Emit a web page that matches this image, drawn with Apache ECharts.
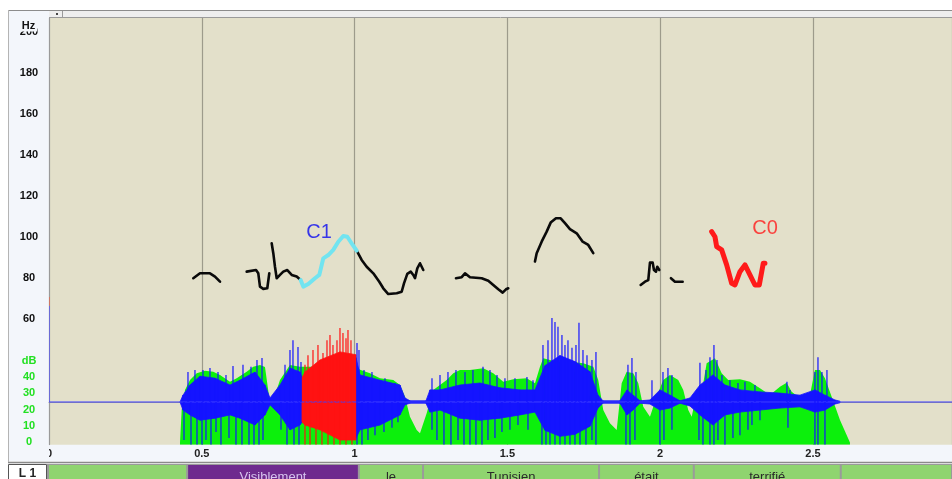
<!DOCTYPE html>
<html><head><meta charset="utf-8">
<script src="https://cdn.jsdelivr.net/npm/echarts@6/dist/echarts.min.js"></script>
<style>html,body{margin:0;padding:0;background:#fff;overflow:hidden;}#c{width:952px;height:479px;}</style>
</head><body><div id="c"></div>
<script>
// ---------- DATA ----------
const T_MAX = 2.955;            // seconds shown
const HZ_MAX = 206.8;
const DB_MAX = 259.7;
const hzTicks = [60, 80, 100, 120, 140, 160, 180, 200];
const dbTicks = [0, 10, 20, 30, 40];

// intensity curve [time s, dB]
const intensity = [[0.4287,0],[0.4342,19.8],[0.4450,32.1],[0.4614,38.2],[0.4833,42.3],[0.5105,43.9],[0.5376,43.3],[0.5596,41.2],[0.5923,37.1],[0.6142,39.2],[0.6469,43.3],[0.6685,46.3],[0.6904,47.4],[0.7068,46.1],[0.7232,24.1],[0.7428,30.8],[0.7559,38.2],[0.7886,47.4],[0.8213,46.3],[0.8639,46.3],[0.9087,49.4],[0.9522,50.4],[0.9957,49.4],[1.0177,44.5],[1.0504,42.3],[1.0831,39.2],[1.1266,38.2],[1.1486,35.1],[1.1649,28.0],[1.1813,15.7],[1.2032,7.6],[1.2140,5.6],[1.2359,17.8],[1.2575,32.1],[1.3014,38.2],[1.3230,42.3],[1.3449,44.3],[1.3776,44.3],[1.4211,45.3],[1.4539,42.3],[1.4866,37.1],[1.5193,38.6],[1.5632,39.2],[1.5903,36.2],[1.6067,46.3],[1.6175,51.5],[1.6613,49.4],[1.7048,49.4],[1.7484,48.4],[1.7811,46.3],[1.7974,38.2],[1.8138,19.8],[1.8357,11.7],[1.8577,7.6],[1.8740,36.2],[1.8904,43.3],[1.9120,42.3],[1.9284,36.2],[1.9447,21.8],[1.9666,15.7],[1.9885,28.0],[2.0101,38.2],[2.0321,41.2],[2.0592,38.2],[2.0756,32.1],[2.0919,19.8],[2.1031,15.7],[2.1194,30.0],[2.1410,36.2],[2.1521,48.4],[2.1793,51.5],[2.2012,42.3],[2.2228,38.2],[2.2611,38.6],[2.2938,37.1],[2.3266,33.1],[2.3593,29.0],[2.3920,34.1],[2.4139,36.5],[2.4303,31.0],[2.4574,27.0],[2.4902,29.0],[2.5065,44.3],[2.5229,44.3],[2.5393,39.2],[2.5612,28.0],[2.5884,13.7],[2.6211,0]];

// waveform dense core envelope [time, upper, lower] (normalised amplitude)
const blueCore1 = [[0.4287,0,0],[0.4385,0.17,-0.20],[0.4614,0.42,-0.32],[0.4941,0.64,-0.45],[0.5432,0.59,-0.40],[0.5923,0.42,-0.32],[0.6250,0.54,-0.40],[0.6741,0.74,-0.57],[0.7068,0.42,-0.32],[0.7232,0.10,-0.07],[0.7559,0.42,-0.32],[0.7886,0.84,-0.69],[0.8213,0.74,-0.57],[0.8279,0.60,-0.50]];
const redCore = [[0.8279,0.60,-0.50],[0.8377,0.74,-0.57],[0.8868,1.04,-0.69],[0.9522,1.24,-0.94],[1.0046,1.17,-0.94]];
const blueCore2 = [[1.0046,1.10,-0.90],[1.0177,0.67,-0.69],[1.0831,0.54,-0.57],[1.1486,0.42,-0.32],[1.1649,0.10,-0.07],[1.1813,0.03,-0.03],[1.2336,0.03,-0.03],[1.2467,0.30,-0.25],[1.2795,0.30,-0.20],[1.3449,0.42,-0.40],[1.4103,0.47,-0.45],[1.4758,0.35,-0.40],[1.5412,0.30,-0.32],[1.5903,0.30,-0.25],[1.6230,0.90,-0.70],[1.6721,1.15,-0.85],[1.7212,1.00,-0.80],[1.7703,0.75,-0.60],[1.7965,0.17,-0.15],[1.8128,0.03,-0.03],[1.8684,0.03,-0.03],[1.8914,0.30,-0.32],[1.9110,0.17,-0.20],[1.9339,0.03,-0.03],[1.9666,0.05,-0.05],[1.9993,0.30,-0.20],[2.0321,0.17,-0.15],[2.0648,0.03,-0.03],[2.0975,0.10,-0.10],[2.1302,0.42,-0.32],[2.1728,0.67,-0.57],[2.2120,0.42,-0.32],[2.2611,0.30,-0.25],[2.3266,0.25,-0.20],[2.3920,0.22,-0.15],[2.4574,0.17,-0.12],[2.5065,0.30,-0.25],[2.5393,0.17,-0.20],[2.5720,0.05,-0.05],[2.5884,0.02,-0.02]];

// waveform peaks [time, amplitude]
const blueUpPeaks = [[0.4548,0.74],[0.4777,0.79],[0.5039,0.79],[0.5268,0.84],[0.5530,0.74],[0.5792,0.67],[0.6021,0.89],[0.6348,0.92],[0.6610,0.87],[0.6806,1.04],[0.6970,1.09],[0.7723,0.92],[0.7886,1.29],[0.7984,1.53],[0.8148,1.36],[0.8246,0.99],[1.0079,1.46],[1.0144,1.29],[1.0308,0.79],[1.0569,0.74],[1.0995,0.59],[1.1322,0.47],[1.2533,0.59],[1.2795,0.67],[1.3056,0.74],[1.3318,0.79],[1.3613,0.74],[1.3874,0.79],[1.4202,0.87],[1.4431,0.79],[1.4660,0.67],[1.4921,0.59],[1.5249,0.59],[1.5641,0.62],[1.5838,0.54],[1.6165,1.41],[1.6329,1.53],[1.6459,2.08],[1.6558,1.98],[1.6656,1.86],[1.6786,1.66],[1.6885,1.41],[1.6983,1.53],[1.7114,1.34],[1.7245,1.41],[1.7343,1.96],[1.7474,1.29],[1.7605,1.16],[1.7768,1.04],[1.7899,1.24],[1.8946,0.92],[1.9077,1.09],[1.9208,0.74],[1.9732,0.54],[2.0092,0.74],[2.0255,0.84],[2.0386,0.67],[2.1302,0.97],[2.1499,0.79],[2.1630,1.11],[2.1760,1.41],[2.1859,1.04],[2.2022,0.67],[2.2284,0.54],[2.2546,0.47],[2.2775,0.50],[2.3102,0.42],[2.4149,0.50],[2.4247,0.30],[2.5065,0.74],[2.5164,1.11],[2.5295,0.74],[2.5458,0.79]];
const blueDownPeaks = [[0.4418,-0.94],[0.4647,-1.06],[0.4843,-1.06],[0.5007,-1.06],[0.5137,-0.94],[0.5301,-1.06],[0.5465,-0.74],[0.5628,-1.06],[0.5890,-0.89],[0.6119,-1.06],[0.6315,-1.06],[0.6545,-1.06],[0.6708,-1.06],[0.6872,-1.06],[0.7003,-0.94],[0.7592,-0.69],[0.7788,-1.06],[0.8017,-1.06],[0.8181,-1.06],[1.0079,-1.06],[1.0242,-1.06],[1.0438,-0.94],[1.0668,-0.82],[1.0962,-0.74],[1.1224,-0.64],[1.1420,-0.50],[1.2533,-0.69],[1.2696,-0.94],[1.2925,-1.06],[1.3154,-1.06],[1.3384,-0.94],[1.3580,-1.06],[1.3776,-1.06],[1.3972,-1.06],[1.4169,-1.06],[1.4365,-0.94],[1.4594,-0.89],[1.4823,-0.74],[1.5085,-0.69],[1.5347,-0.57],[1.5674,-0.69],[1.6132,-1.06],[1.6263,-1.06],[1.6394,-1.06],[1.6558,-1.06],[1.6721,-1.06],[1.6885,-1.06],[1.7048,-1.06],[1.7212,-1.06],[1.7376,-1.06],[1.7572,-1.06],[1.7768,-0.94],[1.7899,-1.06],[1.8881,-1.06],[1.9012,-1.06],[1.9175,-0.94],[1.9993,-1.06],[2.0124,-0.94],[2.0386,-0.69],[2.1270,-0.94],[2.1401,-1.06],[2.1630,-1.06],[2.1760,-1.06],[2.1891,-0.94],[2.2120,-1.06],[2.2382,-0.89],[2.2611,-0.82],[2.2873,-0.69],[2.3004,-0.57],[2.3266,-0.45],[2.4182,-0.64],[2.5065,-1.06],[2.5164,-1.06],[2.5393,-1.06]];
const redUpPeaks = [[0.8377,0.92],[0.8475,1.16],[0.8639,1.29],[0.8802,1.41],[0.8966,1.21],[0.9097,1.53],[0.9195,1.66],[0.9293,1.41],[0.9424,1.53],[0.9522,1.83],[0.9620,1.71],[0.9719,1.58],[0.9784,1.78],[0.9882,1.53]];
const redDownPeaks = [[0.8377,-1.06],[0.8541,-1.06],[0.8737,-1.06],[0.8933,-1.06],[0.9130,-1.06],[0.9326,-1.06],[0.9522,-1.06],[0.9719,-1.06],[0.9915,-1.06]];
// onset click at t=0 [time, from, to]
const onsetBlue = [[0, 0, 2.38]];
const onsetRed = [[0, 2.38, 2.6]];

// pitch contour segments [time s, Hz]
const pitch1 = [[0.4722,80.0],[0.4941,82.4],[0.5268,82.4],[0.5432,80.8],[0.5596,78.3]];
const pitch2 = [[0.6469,83.2],[0.6774,84.0],[0.6849,82.4],[0.6904,75.9],[0.7012,74.8],[0.7143,75.1],[0.7209,82.4]];
const pitch3 = [[0.7287,97.0],[0.7340,92.2],[0.7395,85.6],[0.7451,80.0],[0.7559,81.6],[0.7667,83.2],[0.7798,84.0],[0.7942,81.6],[0.8105,80.8],[0.8236,79.1]];
const pitchC1 = [[0.8236,79.1],[0.8321,75.9],[0.8485,77.2],[0.8704,80.0],[0.8845,81.6],[0.8976,89.7],[0.9140,91.3],[0.9303,93.8],[0.9467,97.8],[0.9630,100.6],[0.9761,100.2],[0.9938,96.2],[1.0069,93.4]];
const pitch4 = [[1.0069,93.4],[1.0232,88.9],[1.0396,85.6],[1.0612,82.4],[1.0808,78.3],[1.0939,75.1],[1.1103,72.3],[1.1378,72.7],[1.1541,73.4],[1.1617,77.5],[1.1725,82.1],[1.1836,83.2],[1.1921,81.6],[1.1977,80.0],[1.2052,84.8],[1.2140,87.3],[1.2248,84.0]];
const pitch5 = [[1.3318,80.0],[1.3505,80.5],[1.3613,82.4],[1.3776,80.5],[1.4159,80.0],[1.4375,78.8],[1.4539,76.7],[1.4703,74.6],[1.4846,73.0],[1.4954,74.6],[1.5029,75.1]];
const pitch6 = [[1.5903,88.1],[1.5959,92.2],[1.6122,97.8],[1.6286,102.7],[1.6417,107.1],[1.6590,109.2],[1.6744,109.2],[1.6885,106.8],[1.7048,103.9],[1.7268,101.9],[1.7464,97.8],[1.7647,96.2],[1.7811,92.2]];
const pitch7 = [[1.9362,76.7],[1.9503,78.3],[1.9611,79.1],[1.9666,87.6],[1.9755,87.6],[1.9797,84.0],[1.9863,83.2],[1.9905,85.6],[1.9971,84.0]];
const pitch8 = [[2.0353,80.0],[2.0484,78.3],[2.0736,78.3]];
const pitchC0 = [[2.1685,102.7],[2.1793,100.2],[2.1849,95.4],[2.2012,93.8],[2.2176,86.5],[2.2340,77.5],[2.2448,76.7],[2.2611,83.2],[2.2775,86.5],[2.2938,81.6],[2.3102,76.7],[2.3243,76.7],[2.3374,87.3],[2.3429,87.3]];
const blackPitch = [pitch1, pitch2, pitch3, pitch4, pitch5, pitch6, pitch7, pitch8];

// contour labels [time, Hz, text]
const contourLabels = [[0.8835, 102.3, 'C1'], [2.343, 104.3, 'C0']];

// annotation tier
const tierBounds = [0, 0.452, 1.014, 1.224, 1.800, 2.110, 2.591, T_MAX];
const tierWords = ['', 'Visiblement', 'le', 'Tunisien', 'était', 'terrifié', ''];
const tierName = 'L 1';

// ---------- CHART ----------
const FONT = 'Liberation Sans, Arial, sans-serif';
const chart = echarts.init(document.getElementById('c'), null, {renderer: 'canvas', width: 952, height: 479});

function band(arr, color) {
  return {
    type: 'custom', xAxisIndex: 0, yAxisIndex: 0, clip: true, silent: true, z: 3,
    data: arr.slice(0, -1).map((d, i) => [d[0], 0, i]),
    renderItem: (params, api) => {
      const i = params.dataIndex, a = arr[i], b = arr[i + 1];
      const pts = [api.coord([a[0], a[1]]), api.coord([b[0], b[1]]), api.coord([b[0], b[2]]), api.coord([a[0], a[2]])];
      return {type: 'polygon', shape: {points: pts}, style: {fill: color, stroke: color, lineWidth: 0.8}};
    }
  };
}
function peaks(arr, color, z) {
  return {
    type: 'custom', xAxisIndex: 0, yAxisIndex: 0, clip: true, silent: true, z: z || 4,
    data: arr.map(d => d.length === 3 ? d : [d[0], 0, d[1]]),
    renderItem: (params, api) => {
      const t = api.value(0);
      const p0 = api.coord([t, api.value(1)]), p1 = api.coord([t, api.value(2)]);
      return {type: 'line', shape: {x1: p0[0], y1: p0[1], x2: p1[0], y2: p1[1]}, style: {stroke: color, lineWidth: 1.2}};
    }
  };
}
function pitchLine(data, color, width) {
  return {type: 'line', xAxisIndex: 1, yAxisIndex: 2, data: data, symbol: 'none', silent: true, z: 6,
    lineStyle: {color: color, width: width, join: 'round', cap: 'round'}, itemStyle: {color: color}};
}

const BLUE = '#1414ff', RED = '#ff1212', GREEN = '#0cf00c';

const series = [
  {type: 'line', xAxisIndex: 0, yAxisIndex: 1, data: intensity, symbol: 'none', silent: true, z: 2,
   lineStyle: {width: 0}, itemStyle: {color: GREEN}, areaStyle: {color: GREEN, opacity: 1, origin: 'start'}},
  {type: 'line', xAxisIndex: 0, yAxisIndex: 0, data: [[0, 0], [T_MAX, 0]], symbol: 'none', silent: true, z: 3,
   lineStyle: {color: '#4040ff', width: 1}},
  band(blueCore1, BLUE), band(blueCore2, BLUE),
  peaks(blueUpPeaks, BLUE), peaks(blueDownPeaks, BLUE), peaks(onsetBlue, '#4a4aff'),
  band(redCore, RED), peaks(redUpPeaks, RED, 5), peaks(redDownPeaks, RED, 5), peaks(onsetRed, '#f06040', 5),
];
blackPitch.forEach(seg => series.push(pitchLine(seg, '#0a0a0a', 2.6)));
series.push(pitchLine(pitchC1, '#72e4f0', 4));
series.push(pitchLine(pitchC0, '#ff1a1a', 5));
series.push({
  type: 'scatter', xAxisIndex: 1, yAxisIndex: 2, symbolSize: 0, silent: true, z: 7,
  data: contourLabels.map(d => ({value: [d[0], d[1]], name: d[2],
    label: {show: true, position: 'inside', formatter: d[2], fontSize: 20, fontFamily: FONT,
      color: d[2] === 'C1' ? '#0a0af0' : '#ff1a1a'}}))
});
series.push({
  type: 'custom', xAxisIndex: 2, yAxisIndex: 4, silent: true, z: 3, clip: false,
  data: tierWords.map((w, i) => [tierBounds[i], 0, tierBounds[i + 1], i]),
  renderItem: (params, api) => {
    const i = params.dataIndex;
    const a = api.coord([tierBounds[i], 1]), b = api.coord([tierBounds[i + 1], 0]);
    const purple = tierWords[i] === 'Visiblement';
    const x0 = a[0] + (i === 0 ? 0 : 1), x1 = b[0] - 1;
    return {type: 'group', children: [
      {type: 'rect', shape: {x: x0, y: a[1] + 1, width: x1 - x0, height: b[1] - a[1]},
       style: {fill: purple ? '#6e2a8e' : '#8fd46f'}},
      {type: 'text', style: {text: tierWords[i], x: (x0 + x1) / 2, y: a[1] + 7, align: 'center', verticalAlign: 'top',
        fontSize: 13, fontFamily: FONT, fill: purple ? '#d6c4ee' : '#2a2a2a'}}
    ]};
  }
});

const option = {
  backgroundColor: '#f3f6fb',
  animation: false,
  grid: [
    {left: 49, top: 18, right: 0, height: 426.7, show: true, backgroundColor: '#e3e0ca', borderWidth: 0, outerBoundsMode: 'none', containLabel: false},
    {left: 49, top: 18, right: 0, height: 424.4, outerBoundsMode: 'none', containLabel: false},
    {left: 49, top: 464, right: 0, height: 15, outerBoundsMode: 'none', containLabel: false}
  ],
  xAxis: [
    {gridIndex: 0, type: 'value', min: 0, max: T_MAX, interval: 0.5,
     axisLine: {show: true, lineStyle: {color: '#9a9a9a'}}, axisTick: {show: false},
     axisLabel: {margin: 4, fontSize: 11, fontWeight: 'bold', fontFamily: FONT, color: '#222', showMaxLabel: false,
       formatter: v => (Math.abs(v * 2 - Math.round(v * 2)) < 1e-6) ? String(v) : ''},
     splitLine: {show: true, lineStyle: {color: '#9d9b8b', width: 1.2}}},
    {gridIndex: 1, type: 'value', min: 0, max: T_MAX, show: false},
    {gridIndex: 2, type: 'value', min: 0, max: T_MAX, show: false}
  ],
  yAxis: [
    {gridIndex: 0, type: 'value', min: -1.057, max: 9.505, axisLabel: {show: false}, axisTick: {show: false},
     splitLine: {show: false}, axisLine: {show: true, lineStyle: {color: '#9a9a9a'}}},
    {gridIndex: 0, type: 'value', min: -1.41, max: DB_MAX, show: false},
    {gridIndex: 1, type: 'value', min: 0, max: HZ_MAX, interval: 20, position: 'left',
     axisLine: {show: false}, axisTick: {show: false}, splitLine: {show: false},
     axisLabel: {margin: 20, align: 'center', fontSize: 11, fontWeight: 'bold', fontFamily: FONT, color: '#111',
       formatter: v => hzTicks.indexOf(v) >= 0 ? String(v) : ''}},
    {gridIndex: 1, type: 'value', min: 0, max: DB_MAX, interval: 10, position: 'left', offset: 0,
     axisLine: {show: false}, axisTick: {show: false}, splitLine: {show: false},
     axisLabel: {margin: 20, align: 'center', fontSize: 11, fontWeight: 'bold', fontFamily: FONT, color: '#22e022',
       formatter: v => dbTicks.indexOf(v) >= 0 ? String(v) : (v === 50 ? 'dB' : '')}},
    {gridIndex: 2, type: 'value', min: 0, max: 1, show: false}
  ],
  graphic: [
    {type: 'rect', z: 50, shape: {x: 0, y: 0, width: 952, height: 10}, style: {fill: '#ffffff'}},
    {type: 'rect', z: 50, shape: {x: 0, y: 0, width: 8, height: 479}, style: {fill: '#ffffff'}},
    {type: 'line', z: 51, shape: {x1: 8, y1: 10.5, x2: 952, y2: 10.5}, style: {stroke: '#8c8c8c', lineWidth: 1}},
    {type: 'line', z: 51, shape: {x1: 8.5, y1: 10, x2: 8.5, y2: 462}, style: {stroke: '#b4b4b4', lineWidth: 1}},
    {type: 'rect', z: 50, shape: {x: 49, y: 11, width: 903, height: 6}, style: {fill: '#eeeeee'}},
    {type: 'line', z: 51, shape: {x1: 49, y1: 17.5, x2: 952, y2: 17.5}, style: {stroke: '#9a9a9a', lineWidth: 1}},
    {type: 'line', z: 51, shape: {x1: 62.5, y1: 11, x2: 62.5, y2: 17}, style: {stroke: '#9a9a9a', lineWidth: 1}},
    {type: 'rect', z: 51, shape: {x: 56, y: 13, width: 2, height: 2}, style: {fill: '#444'}},
    {type: 'rect', z: 50, shape: {x: 9, y: 446, width: 40, height: 14}, style: {fill: '#f3f6fb'}},
    {type: 'text', z: 52, style: {text: 'Hz', x: 28.5, y: 20.5, align: 'center', verticalAlign: 'top',
      fontSize: 11, fontWeight: 'bold', fontFamily: FONT, fill: '#111', backgroundColor: '#f3f6fb', padding: [0, 2, 0, 2]}},
    {type: 'rect', z: 50, shape: {x: 8, y: 461, width: 944, height: 3}, style: {fill: '#dcdcdc'}},
    {type: 'line', z: 51, shape: {x1: 8, y1: 462.5, x2: 952, y2: 462.5}, style: {stroke: '#8a8a8a', lineWidth: 1}},
    {type: 'rect', z: 0, shape: {x: 47, y: 464, width: 905, height: 15}, style: {fill: '#9a9a9a'}},
    {type: 'rect', z: 51, shape: {x: 8.5, y: 464.5, width: 38, height: 16}, style: {fill: '#ffffff', stroke: '#555', lineWidth: 1}},
    {type: 'text', z: 52, style: {text: tierName, x: 27.5, y: 468, align: 'center', verticalAlign: 'top',
      fontSize: 12, fontWeight: 'bold', fontFamily: FONT, fill: '#222'}}
  ],
  series: series
};
chart.setOption(option);
</script>
</body></html>
